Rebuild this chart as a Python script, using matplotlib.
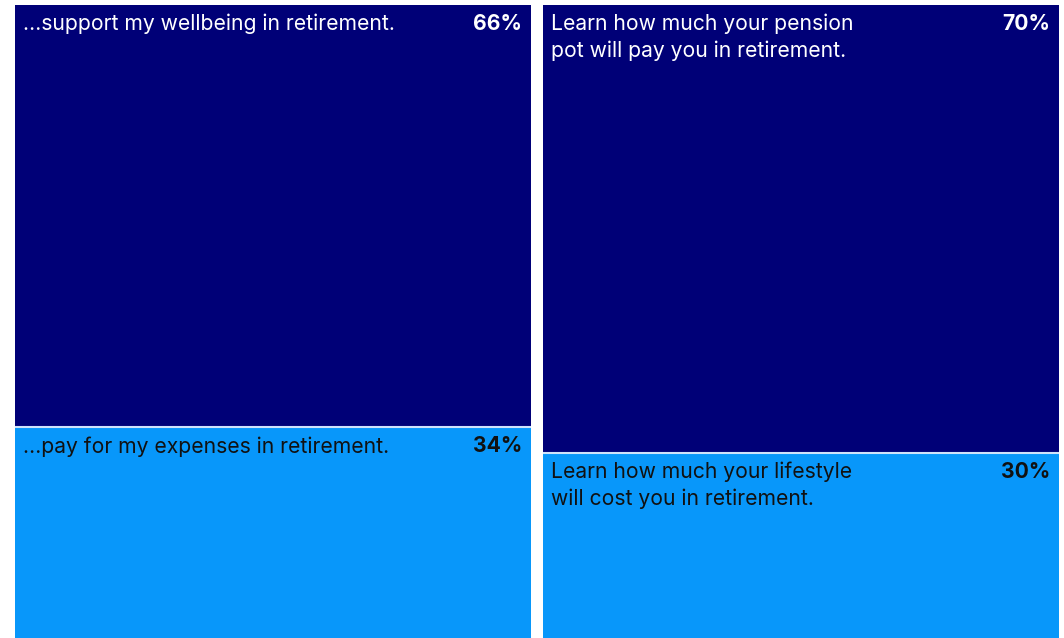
import matplotlib.pyplot as plt

# data
left_labels = ["…support my wellbeing in retirement.", "…pay for my expenses in retirement."]
left_values = [66, 34]
right_labels = ["Learn how much your pension\npot will pay you in retirement.",
                "Learn how much your lifestyle\nwill cost you in retirement."]
right_values = [70, 30]

colors = ["#000077", "#0897FA"]
text_colors = ["white", "#111111"]

plt.rcParams['font.family'] = ['Inter', 'DejaVu Sans']

fig = plt.figure(figsize=(10.64, 6.38), dpi=100)

W, H = 1064, 638
def make_ax(x0, x1):
    top, bot = 5, 645
    return fig.add_axes([x0 / W, 1 - bot / H, (x1 - x0) / W, (bot - top) / H])

ax1 = make_ax(15, 531)
ax2 = make_ax(543, 1059)

for ax, labels, values in [(ax1, left_labels, left_values), (ax2, right_labels, right_values)]:
    start = 0
    for i, (lab, v) in enumerate(zip(labels, values)):
        ax.bar(0, v, bottom=start, width=1, color=colors[i], linewidth=0)
        ax.annotate(lab, (-0.5, start), xytext=(8, -9), textcoords='offset pixels',
                    ha='left', va='top', fontsize=15.2, color=text_colors[i],
                    linespacing=1.38)
        ax.annotate(f"{v}%", (0.5, start), xytext=(-9, -9), textcoords='offset pixels',
                    ha='right', va='top', fontsize=15.2, fontweight='bold',
                    color=text_colors[i])
        if i > 0:
            ax.axhline(start, color="#cfe3fb", linewidth=1.5)
        start += v
    ax.set_xlim(-0.5, 0.5)
    ax.set_ylim(100, 0)
    ax.axis('off')

fig.savefig("out.png", dpi=100)
